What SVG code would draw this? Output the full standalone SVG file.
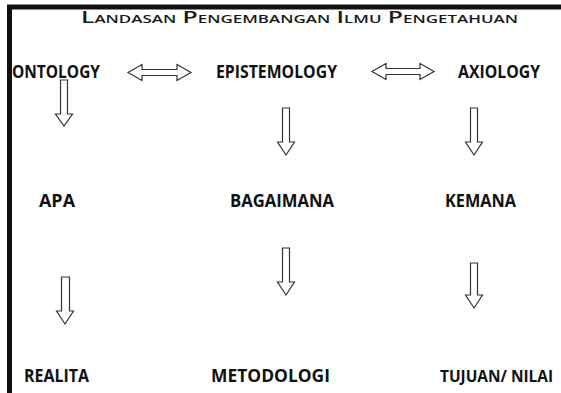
<svg xmlns="http://www.w3.org/2000/svg" width="561" height="393" viewBox="0 0 561 393">
<style>
.lbl{font-family:"Open Sans","Liberation Sans",sans-serif;font-weight:700;font-size:17.5px;fill:#111}
.title{font-family:"Open Sans","Liberation Sans",sans-serif;font-weight:600;font-size:16px;font-variant:small-caps;fill:#1a1a1a}
.arr{fill:#fff;stroke:#333;stroke-width:1.2;stroke-linejoin:miter}
</style>
<rect x="0" y="0" width="561" height="393" fill="#fff"/>
<path d="M9.5 393 V7 H561" fill="none" stroke="#111" stroke-width="5"/>
<text class="title" x="81" y="23" textLength="437" lengthAdjust="spacingAndGlyphs">Landasan Pengembangan Ilmu Pengetahuan</text>
<g id="ontology"><text class="lbl" x="12" y="78" textLength="88" lengthAdjust="spacingAndGlyphs">ONTOLOGY</text></g>
<g id="epistemology"><text class="lbl" x="216" y="78" textLength="121" lengthAdjust="spacingAndGlyphs">EPISTEMOLOGY</text></g>
<g id="axiology"><text class="lbl" x="458" y="78" textLength="82" lengthAdjust="spacingAndGlyphs">AXIOLOGY</text></g>
<g id="apa"><text class="lbl" x="39" y="207" textLength="36" lengthAdjust="spacingAndGlyphs">APA</text></g>
<g id="bagaimana"><text class="lbl" x="230" y="207" textLength="104" lengthAdjust="spacingAndGlyphs">BAGAIMANA</text></g>
<g id="kemana"><text class="lbl" x="445" y="207" textLength="71" lengthAdjust="spacingAndGlyphs">KEMANA</text></g>
<g id="realita"><text class="lbl" x="24" y="382" textLength="65" lengthAdjust="spacingAndGlyphs">REALITA</text></g>
<g id="metodologi"><text class="lbl" x="211" y="382" textLength="119" lengthAdjust="spacingAndGlyphs">METODOLOGI</text></g>
<g id="tujuan"><text class="lbl" x="440" y="382" style="font-size:16px" textLength="113" lengthAdjust="spacingAndGlyphs">TUJUAN/ NILAI</text></g>
<g id="connectors">
<path class="arr" d="M128 72.5 L142 64.5 V69.5 H177 V64.5 L191 72.5 L177 80.5 V75.5 H142 V80.5 Z"/>
<path class="arr" d="M372 71.5 L386 63.5 V68.5 H420 V63.5 L434 71.5 L420 79.5 V74.5 H386 V79.5 Z"/>
<path class="arr" d="M60.5 80 H67.5 V114 H72.5 L64 126 L55.5 114 H60.5 Z"/>
<path class="arr" d="M282.5 108 H289.5 V142 H294.5 L286 155 L277.5 142 H282.5 Z"/>
<path class="arr" d="M470.5 108 H477.5 V142 H482.5 L474 155 L465.5 142 H470.5 Z"/>
<path class="arr" d="M282.5 248 H289.5 V282 H294.5 L286 295 L277.5 282 H282.5 Z"/>
<path class="arr" d="M470.5 263 H477.5 V295 H482.5 L474 308 L465.5 295 H470.5 Z"/>
<path class="arr" d="M61.5 277 H69.5 V311 H73.5 L65 324 L56.5 311 H61.5 Z"/>
</g>
</svg>
